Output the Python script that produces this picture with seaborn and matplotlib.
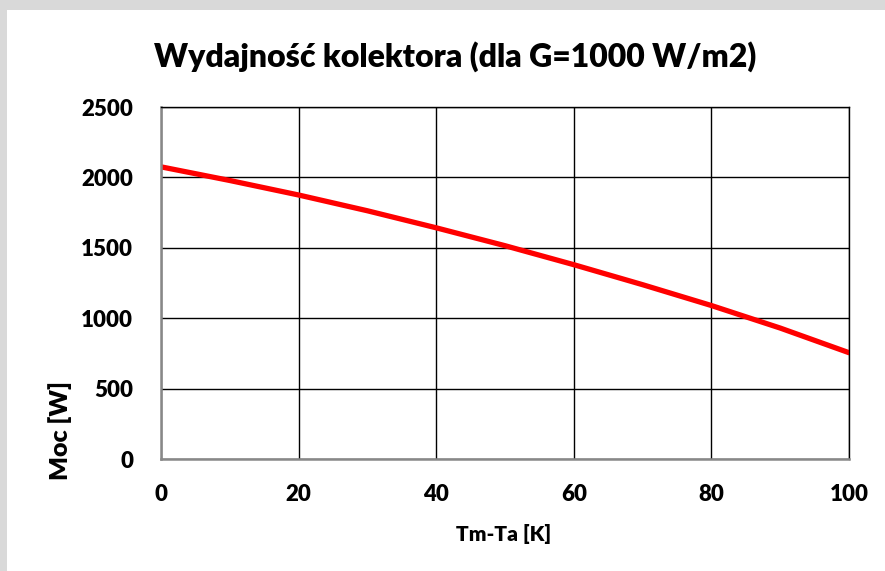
import matplotlib
matplotlib.use("Agg")
import matplotlib.pyplot as plt
from matplotlib.patches import Rectangle
import pandas as pd
import seaborn as sns

# values
dt = [0, 10, 20, 30, 40, 50, 60, 70, 80, 90, 100]
power = [2075, 1978, 1875, 1763, 1642, 1515, 1380, 1238, 1090, 930, 755]

x_ticks = [0, 20, 40, 60, 80, 100]
y_ticks = [0, 500, 1000, 1500, 2000, 2500]

title = "Wydajność kolektora (dla G=1000 W/m2)"
x_label = "Tm-Ta [K]"
y_label = "Moc [W]"

df = pd.DataFrame({"dT": dt, "P": power})

sns.set_style("white")
plt.rcParams["font.family"] = ["Lato", "DejaVu Sans"]
plt.rcParams["text.color"] = "black"
plt.rcParams["xtick.color"] = "black"
plt.rcParams["ytick.color"] = "black"

WEIGHT = "heavy"

W, H = 885, 571
fig = plt.figure(figsize=(W / 100, H / 100), dpi=100, facecolor="#d9d9d9")
# white chart panel inside gray border
fig.patches.append(Rectangle((7 / W, 0), 1 - 7 / W, 1 - 10 / H,
                             transform=fig.transFigure, facecolor="white",
                             edgecolor="none", zorder=-1))

ax = fig.add_axes([161 / W, (H - 459) / H, (849 - 161) / W, (459 - 107) / H])
ax.set_facecolor("white")

sns.lineplot(data=df, x="dT", y="P", ax=ax, color="#ff0000", linewidth=3.8)

ax.set_xlim(0, 100)
ax.set_ylim(0, 2500)
ax.set_xticks(x_ticks, labels=[str(v) for v in x_ticks],
              fontsize=16, fontweight=WEIGHT)
ax.set_yticks(y_ticks, labels=[str(v) for v in y_ticks],
              fontsize=16, fontweight=WEIGHT)
ax.grid(True, color="black", linewidth=1.0)
ax.set_axisbelow(True)
ax.tick_params(length=0)
ax.tick_params(axis="x", pad=18)
ax.tick_params(axis="y", pad=20)

for side in ["top", "right"]:
    ax.spines[side].set_color("black")
    ax.spines[side].set_linewidth(1.0)
for side in ["left", "bottom"]:
    ax.spines[side].set_color("#888888")
    ax.spines[side].set_linewidth(1.8)

ax.set_xlabel("")
ax.set_ylabel("")
fig.text(504 / W, 1 - 534 / H, x_label, ha="center", va="center",
         fontsize=15, fontweight=WEIGHT)
fig.text(60 / W, 1 - 430 / H, y_label, ha="center", va="center",
         rotation=90, fontsize=18, fontweight=WEIGHT)

fig.text(455 / W, 1 - 57 / H, title, ha="center", va="center",
         fontsize=23, fontweight=WEIGHT)

fig.savefig("out.png", dpi=100, facecolor=fig.get_facecolor())
